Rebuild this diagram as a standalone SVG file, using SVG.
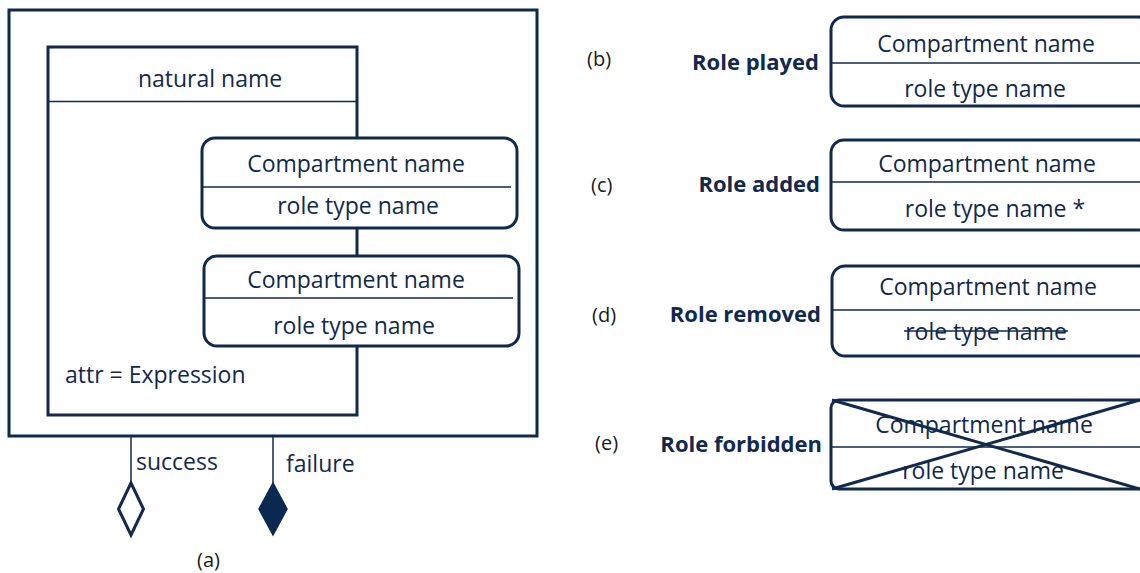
<svg xmlns="http://www.w3.org/2000/svg" width="1140" height="573" viewBox="0 0 1140 573">
  <style>
    .frame { fill: none; stroke: #10294d; stroke-width: 3; }
    .box { fill: #ffffff; stroke: #10294d; stroke-width: 3; }
    .sep { stroke: #10294d; stroke-width: 1.5; }
    .wire { stroke: #10294d; stroke-width: 1.5; fill: none; }
    .txt { font-family: "Open Sans", "Liberation Sans", sans-serif; font-size: 23px; fill: #10294d; }
    .mid { text-anchor: middle; }
    .lbl { font-family: "Open Sans", "Liberation Sans", sans-serif; font-size: 22px; font-weight: bold; fill: #10294d; text-anchor: end; }
    .tag { font-family: "Open Sans", "Liberation Sans", sans-serif; font-size: 20px; fill: #1a1a1a; }
    .cross { stroke: #10294d; stroke-width: 3; }
  </style>

  <!-- (a) composite: outer frame with natural type and two role parts -->
  <g id="outer-frame">
    <rect class="frame" x="9" y="10" width="528" height="426"/>
  </g>

  <g id="natural">
    <rect class="box" x="48" y="47" width="309" height="368"/>
    <line class="sep" x1="48" y1="101.5" x2="357" y2="101.5"/>
    <text class="txt mid" x="210" y="87">natural name</text>
    <text class="txt" x="65" y="383">attr = Expression</text>
  </g>

  <g id="role-a1">
    <rect class="box" x="202" y="138" width="315" height="90" rx="13"/>
    <line class="sep" x1="202" y1="187" x2="511" y2="187"/>
    <text class="txt mid" x="356" y="172">Compartment name</text>
    <text class="txt mid" x="358" y="214">role type name</text>
  </g>

  <g id="role-a2">
    <rect class="box" x="204" y="256" width="315" height="90" rx="13"/>
    <line class="sep" x1="204" y1="298" x2="513" y2="298"/>
    <text class="txt mid" x="356" y="288">Compartment name</text>
    <text class="txt mid" x="354" y="334">role type name</text>
  </g>

  <!-- exit stubs -->
  <g id="connectors">
    <line class="wire" x1="131" y1="436" x2="131" y2="483"/>
    <line class="wire" x1="273" y1="436" x2="273" y2="483"/>
  </g>

  <g id="success">
    <polygon points="131,483 143.5,509 131,535 118.5,509" fill="#ffffff" stroke="#10294d" stroke-width="3" stroke-linejoin="miter"/>
    <text class="txt" x="136" y="470">success</text>
  </g>

  <g id="failure">
    <polygon points="273,483 287,509 273,535 259,509" fill="#0b2850" stroke="#0b2850" stroke-width="1.5"/>
    <text class="txt" x="286" y="472">failure</text>
  </g>

  <text class="tag" x="197" y="567">(a)</text>

  <!-- (b) role played -->
  <g id="role-played">
    <text class="tag" x="587" y="66">(b)</text>
    <text class="lbl" x="819" y="70">Role played</text>
    <rect class="box" x="831" y="17" width="320" height="89" rx="13"/>
    <line class="sep" x1="831" y1="63" x2="1140" y2="63"/>
    <text class="txt mid" x="986" y="52">Compartment name</text>
    <text class="txt mid" x="985" y="97">role type name</text>
  </g>

  <!-- (c) role added -->
  <g id="role-added">
    <text class="tag" x="591" y="192">(c)</text>
    <text class="lbl" x="820" y="192">Role added</text>
    <rect class="box" x="831" y="140" width="320" height="90" rx="13"/>
    <line class="sep" x1="831" y1="182" x2="1140" y2="182"/>
    <text class="txt mid" x="987" y="172">Compartment name</text>
    <text class="txt mid" x="995" y="217">role type name *</text>
  </g>

  <!-- (d) role removed -->
  <g id="role-removed">
    <text class="tag" x="592" y="322">(d)</text>
    <text class="lbl" x="821" y="322">Role removed</text>
    <rect class="box" x="832" y="266" width="320" height="90" rx="13"/>
    <line class="sep" x1="832" y1="310" x2="1140" y2="310"/>
    <text class="txt mid" x="988" y="295">Compartment name</text>
    <text class="txt mid" x="986" y="340">role type name</text>
    <line class="sep" x1="904" y1="331" x2="1068" y2="331"/>
  </g>

  <!-- (e) role forbidden -->
  <g id="role-forbidden">
    <text class="tag" x="595" y="450">(e)</text>
    <text class="lbl" x="822" y="452">Role forbidden</text>
    <rect class="box" x="831" y="400" width="320" height="89" rx="8"/>
    <line class="sep" x1="831" y1="447" x2="1140" y2="447"/>
    <text class="txt mid" x="984" y="433">Compartment name</text>
    <text class="txt mid" x="983" y="479">role type name</text>
    <line class="cross" x1="832" y1="400" x2="1140" y2="489"/>
    <line class="cross" x1="832" y1="489" x2="1140" y2="400"/>
  </g>
</svg>
